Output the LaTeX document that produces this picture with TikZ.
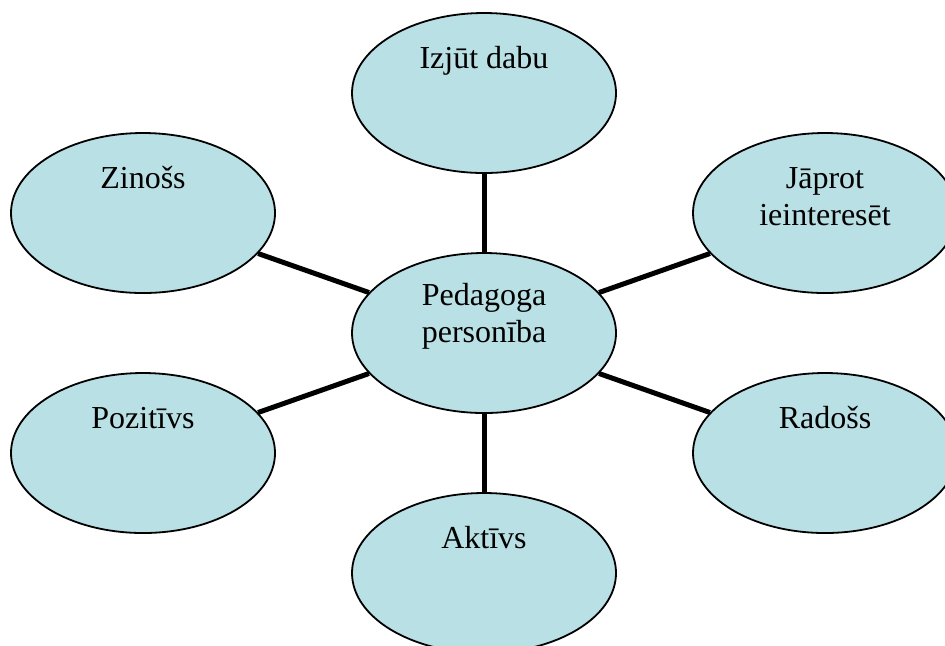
\documentclass[tikz,border=0pt]{standalone}
\usepackage{fontspec}
\setmainfont{Liberation Serif}
\usetikzlibrary{shapes.geometric}
\definecolor{bubblefill}{RGB}{185,224,228}
\tikzset{
  bubble/.style={ellipse, draw=black, line width=0.9pt, fill=bubblefill,
    minimum width=132pt, minimum height=80pt, inner sep=0pt},
  txt/.style={font=\fontsize{16}{18.5}\selectfont, inner sep=0pt, anchor=base},
  conn/.style={line width=2.5pt}
}
\begin{document}
\begin{tikzpicture}[x=0.5pt,y=-0.5pt]
\useasboundingbox (0,0) rectangle (945,645);
\clip (0,0) rectangle (945,645);
% bubbles
\node[bubble] (c) at (484,333) {};
\node[bubble] (t) at (484,93) {};
\node[bubble] (z) at (143,213) {};
\node[bubble] (j) at (825,213) {};
\node[bubble] (p) at (143,453) {};
\node[bubble] (r) at (825,453) {};
\node[bubble] (a) at (484,573) {};
% connectors
\draw[conn] (c) -- (t);
\draw[conn] (c) -- (z);
\draw[conn] (c) -- (j);
\draw[conn] (c) -- (p);
\draw[conn] (c) -- (r);
\draw[conn] (c) -- (a);
% texts
\node[txt] (ct1) at ([yshift=14pt]c.center) {Pedagoga};
\node[txt] (ct2) at ([yshift=-4.5pt]c.center) {personība};
\node[txt] (tt) at ([yshift=12.5pt]t.center) {Izjūt dabu};
\node[txt] (zt) at ([yshift=12.5pt]z.center) {Zinošs};
\node[txt] (jt1) at ([yshift=12.5pt]j.center) {Jāprot};
\node[txt] (jt2) at ([yshift=-6pt]j.center) {ieinteresēt};
\node[txt] (pt) at ([yshift=12.5pt]p.center) {Pozitīvs};
\node[txt] (rt) at ([yshift=12.5pt]r.center) {Radošs};
\node[txt] (at) at ([yshift=12.5pt]a.center) {Aktīvs};
\end{tikzpicture}
\end{document}
